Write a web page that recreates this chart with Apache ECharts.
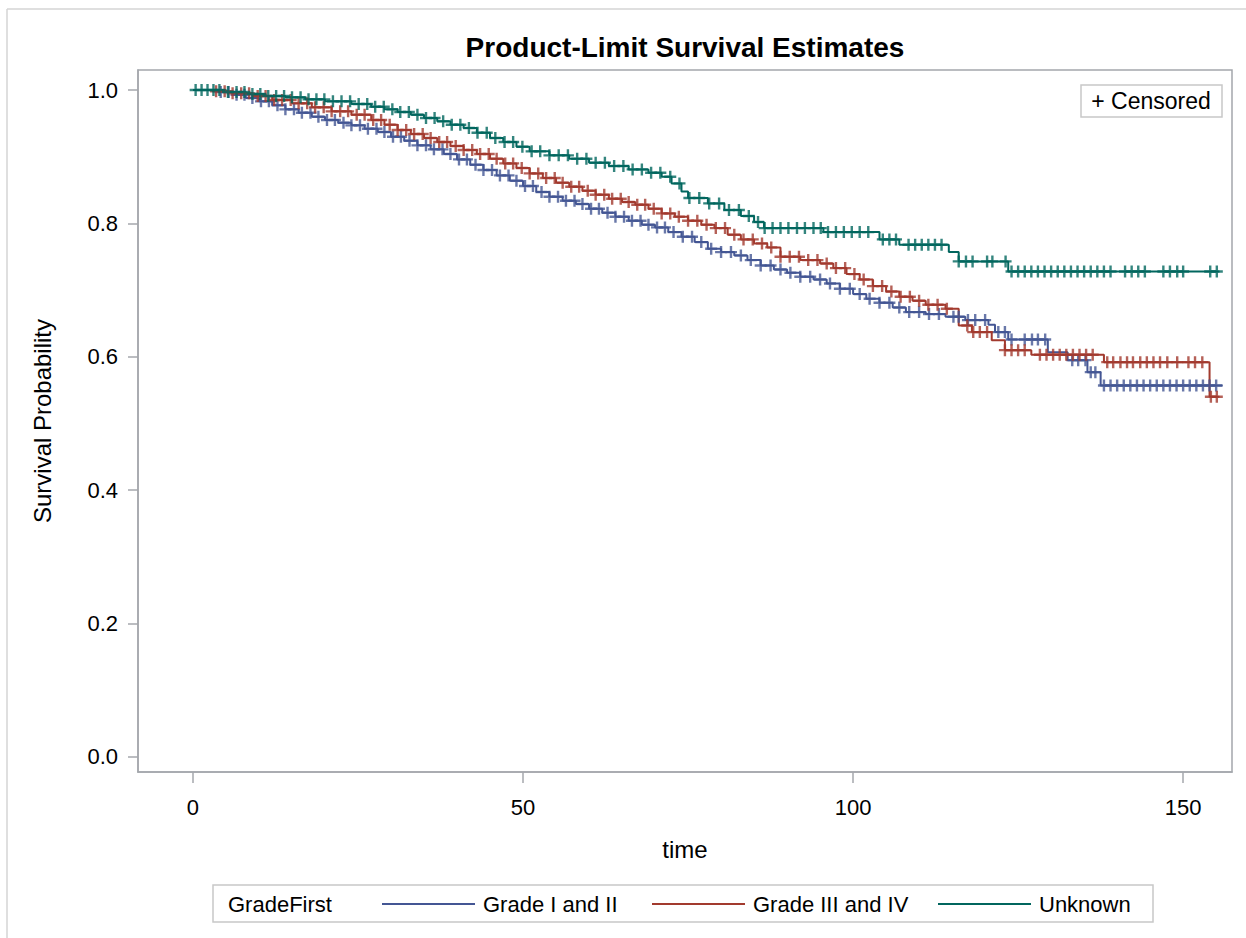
<!DOCTYPE html>
<html>
<head>
<meta charset="utf-8">
<script src="https://cdn.jsdelivr.net/npm/echarts@6/dist/echarts.min.js"></script>
<style>
html,body{margin:0;padding:0;background:#fff;}
#chart{width:1246px;height:938px;}
</style>
</head>
<body>
<div id="chart"></div>
<script>
// ---- tick labels ----
const xTicks = [0, 50, 100, 150];
const yTicks = [0.0, 0.2, 0.4, 0.6, 0.8, 1.0];

// ---- series names ----
const seriesNames = ['Grade I and II', 'Grade III and IV', 'Unknown'];

// ---- Kaplan-Meier step points [time, survival] ----
const stepsGrade12 = [
  [0,1.0],[4,0.997],[6,0.993],[8,0.988],[10,0.983],[12,0.977],[14,0.971],[16,0.966],[18,0.960],
  [20,0.955],[22,0.951],[24,0.947],[26,0.942],[28,0.937],[30,0.930],[32,0.924],[34,0.917],
  [36,0.911],[38,0.904],[40,0.896],[42,0.888],[44,0.880],[46,0.872],[48,0.864],[50,0.856],
  [52,0.847],[54,0.840],[56,0.834],[58,0.829],[60,0.822],[62,0.816],[64,0.810],[66,0.804],
  [68,0.798],[70,0.794],[72,0.787],[74,0.780],[76,0.772],[78,0.762],[80,0.757],[82,0.752],
  [84,0.745],[86,0.737],[88,0.731],[90,0.726],[92,0.720],[94,0.716],[96,0.710],[98,0.702],
  [100,0.694],[102,0.687],[104,0.681],[106,0.674],[108,0.667],[111,0.664],[114,0.660],
  [117,0.655],[120.5,0.648],[121.5,0.637],[123.5,0.626],[129.5,0.607],[132.5,0.595],
  [135.5,0.577],[137.5,0.557],[156,0.557]
];
const stepsGrade34 = [
  [0,1.0],[3,0.998],[6,0.995],[9,0.991],[12,0.985],[15,0.980],[18,0.974],[21,0.968],[24,0.963],
  [27,0.955],[29,0.948],[31,0.940],[33,0.934],[35,0.928],[37,0.922],[39,0.916],[41,0.910],
  [43,0.904],[45,0.897],[47,0.890],[49,0.883],[51,0.875],[53,0.868],[55,0.861],[57,0.855],
  [59,0.849],[61,0.843],[63,0.837],[65,0.832],[67,0.828],[69,0.822],[71,0.815],[73,0.810],
  [75,0.804],[77,0.798],[79,0.793],[81,0.783],[83,0.776],[85,0.770],[87,0.764],[89,0.750],
  [92,0.745],[95,0.740],[97,0.733],[99,0.724],[101,0.716],[103,0.706],[105,0.698],[107,0.690],
  [109,0.684],[111,0.678],[114,0.672],[116,0.647],[118,0.637],[121,0.625],[123,0.610],
  [127,0.603],[138,0.592],[154,0.540],[155.5,0.540]
];
const stepsUnknown = [
  [0,1.0],[5,0.997],[8,0.994],[11,0.991],[14,0.989],[17,0.986],[20,0.983],[24,0.979],[27,0.975],
  [29,0.971],[31,0.967],[33,0.963],[35,0.958],[37,0.953],[39,0.948],[41,0.943],[43,0.936],
  [45,0.928],[47,0.922],[49,0.915],[51,0.908],[54,0.902],[57,0.897],[60,0.891],[63,0.886],
  [66,0.881],[69,0.876],[71,0.870],[72.5,0.860],[74,0.848],[75,0.838],[78,0.830],[80.5,0.820],
  [83,0.811],[85,0.802],[86.5,0.793],[95.5,0.787],[104,0.776],[107,0.768],[114.5,0.757],
  [116,0.743],[123.5,0.728],[155.5,0.728]
];

// ---- censored times ----
const censGrade12 = [
  4.2,5.4,6.6,7.8,9.0,10.3,11.5,12.8,14.0,15.3,16.5,17.8,19.0,20.3,21.5,22.8,24.0,25.3,26.5,27.8,
  29.0,30.3,31.5,32.8,34.0,35.3,36.5,37.8,39.0,40.3,41.5,42.8,44.0,45.3,46.5,47.8,49.0,50.3,51.5,
  52.8,54.0,55.3,56.5,57.8,59.0,60.3,61.5,62.8,64.0,65.3,66.5,67.8,69.0,70.3,71.5,72.8,74.2,75.6,
  77.0,78.5,80.0,81.5,83.0,84.5,86.0,87.5,89.0,90.5,92.0,93.5,95.0,96.5,98.0,99.5,101.0,102.5,
  104.0,105.5,107.0,108.5,110.0,111.5,113.0,115.2,116.0,117.4,118.5,120.0,122.0,123.0,124.0,
  126.0,127.1,128.0,129.1,133.2,134.1,135.2,136.0,136.7,138.0,139.0,140.0,141.0,142.0,143.0,
  144.0,145.0,146.0,147.0,148.0,149.0,150.0,151.0,152.0,153.0,154.0,155.0
];
const censGrade34 = [
  3.5,4.8,6.0,7.3,8.5,9.8,11.0,12.3,13.5,14.8,16.0,17.3,18.5,19.8,21.0,22.3,23.5,24.8,26.0,27.3,
  28.5,29.8,31.0,32.3,33.5,34.8,36.0,37.3,38.5,39.8,41.0,42.3,43.5,44.8,46.0,47.3,48.5,49.8,51.0,
  52.3,53.5,54.8,56.0,57.3,58.5,59.8,61.0,62.3,63.5,64.8,66.0,67.3,68.5,69.8,71.0,72.3,73.6,75.0,
  76.4,77.8,79.2,80.6,82.0,83.4,84.8,86.2,87.6,89.0,90.4,91.8,93.2,94.6,96.0,97.4,98.8,100.2,
  101.6,103.0,104.4,105.8,107.2,108.6,110.0,111.4,112.8,114.2,117.3,118.2,119.2,120.3,123.0,
  124.0,125.0,126.0,128.3,129.3,130.3,131.3,132.3,133.3,134.3,135.3,136.3,138.5,139.4,140.5,
  141.5,142.4,143.5,144.5,145.5,146.5,147.6,149.1,150.8,151.8,152.9,154.2,155.1
];
const censUnknown = [
  0.4,1.3,2.2,3.1,4.0,5.3,6.6,7.8,9.0,10.2,11.4,12.6,13.8,15.0,16.3,17.5,18.7,19.9,21.2,22.5,
  23.8,25.1,26.4,27.6,28.9,30.2,31.4,32.7,34.0,35.3,36.6,37.9,39.2,40.5,41.8,43.1,44.5,45.8,47.2,
  48.5,49.9,51.3,52.6,54.0,55.4,56.8,58.2,59.6,61.0,62.4,63.8,65.2,66.6,68.0,69.4,70.8,72.3,73.7,
  75.2,76.7,78.2,79.7,81.2,82.7,84.2,85.6,86.6,87.8,89.0,90.2,91.5,92.7,94.0,95.1,96.2,97.4,98.6,
  99.8,101.0,102.3,104.5,105.5,106.5,108.4,109.4,110.4,111.4,112.4,113.4,116.0,117.1,118.1,
  120.3,121.1,123.1,124.0,125.0,126.0,127.0,128.0,129.0,130.0,131.0,132.0,133.0,134.0,135.0,
  136.0,137.0,138.0,139.0,141.2,142.2,143.2,144.2,147.0,148.0,149.1,150.0,154.1,155.1
];

const colors = ['#445694', '#A23A2E', '#01665E'];
const FONT = 'Liberation Sans, Arial, sans-serif';
const AXIS_COLOR = '#A4A7AC';

// survival value of a step curve at time t (value of last step at or before t)
function stepValue(steps, t) {
  let v = steps[0][1];
  for (const p of steps) { if (p[0] <= t) v = p[1]; else break; }
  return v;
}
function censPoints(steps, times) { return times.map(t => [t, stepValue(steps, t)]); }

const allSteps = [stepsGrade12, stepsGrade34, stepsUnknown];
const allCens = [censGrade12, censGrade34, censUnknown];

const plusPath = 'path://M4,0h2v4h4v2h-4v4h-2v-4h-4v-2h4z';

const series = [];
for (let i = 0; i < 3; i++) {
  series.push({
    name: seriesNames[i], type: 'line', step: 'end', data: allSteps[i],
    showSymbol: false, symbol: 'none', color: colors[i],
    lineStyle: { width: 2, color: colors[i] }, z: 2 + i
  });
}
for (let i = 0; i < 3; i++) {
  series.push({
    name: seriesNames[i] + ' censored', type: 'scatter', data: censPoints(allSteps[i], allCens[i]),
    symbol: plusPath, symbolSize: [12, 12], itemStyle: { color: colors[i] }, z: 5 + i,
    silent: true
  });
}

const legendBase = {
  top: 888, itemWidth: 93, itemHeight: 2, icon: 'rect', itemGap: 24,
  textStyle: { fontSize: 22, color: '#000', fontFamily: FONT, padding: [0, 0, 0, 3] },
  selectedMode: false
};

const option = {
  animation: false,
  backgroundColor: '#ffffff',
  grid: { left: 138, right: 14, top: 70, bottom: 166, show: true, borderColor: AXIS_COLOR, borderWidth: 1.5 },
  xAxis: {
    type: 'value', min: -8.33, max: 157.4,
    name: 'time', nameLocation: 'middle', nameGap: 65,
    nameTextStyle: { fontSize: 24, color: '#000', fontFamily: FONT },
    axisLine: { show: true, onZero: false, lineStyle: { color: AXIS_COLOR, width: 1.5 } },
    axisTick: { show: true, length: 11, customValues: xTicks, lineStyle: { color: AXIS_COLOR, width: 1.5 } },
    axisLabel: { customValues: xTicks, margin: 24, fontSize: 22, color: '#000', fontFamily: FONT },
    splitLine: { show: false }
  },
  yAxis: {
    type: 'value', min: -0.0225, max: 1.03,
    name: 'Survival Probability', nameLocation: 'middle', nameGap: 84,
    nameTextStyle: { fontSize: 24, color: '#000', fontFamily: FONT },
    axisLine: { show: true, onZero: false, lineStyle: { color: AXIS_COLOR, width: 1.5 } },
    axisTick: { show: true, length: 10, customValues: yTicks, lineStyle: { color: AXIS_COLOR, width: 1.5 } },
    axisLabel: { customValues: yTicks, margin: 20, fontSize: 22, color: '#000', fontFamily: FONT,
      formatter: v => Number(v).toFixed(1) },
    splitLine: { show: false }
  },
  legend: [
    Object.assign({}, legendBase, { left: 377, data: [seriesNames[0]] }),
    Object.assign({}, legendBase, { left: 647, data: [seriesNames[1]] }),
    Object.assign({}, legendBase, { left: 933, data: [seriesNames[2]] })
  ],
  graphic: [
    { type: 'line', shape: { x1: 7, y1: 9, x2: 7, y2: 938 }, style: { stroke: '#D4D4D4', lineWidth: 1.5 }, silent: true },
    { type: 'line', shape: { x1: 7, y1: 9, x2: 1246, y2: 9 }, style: { stroke: '#D4D4D4', lineWidth: 1.5 }, silent: true },
    { type: 'text', x: 685, y: 47, style: { text: 'Product-Limit Survival Estimates', fill: '#000',
        font: 'bold 28px ' + FONT, textAlign: 'center', textVerticalAlign: 'middle' } },
    { type: 'rect', shape: { x: 1081, y: 85, width: 141, height: 32 },
      style: { fill: '#fff', stroke: '#C8C8C8', lineWidth: 1.5 }, z: 10 },
    { type: 'text', x: 1151, y: 101, z: 11, style: { text: '+ Censored', fill: '#000',
        font: '23px ' + FONT, textAlign: 'center', textVerticalAlign: 'middle' } },
    { type: 'rect', shape: { x: 213, y: 885, width: 940, height: 37 },
      style: { fill: 'none', stroke: '#C8C8C8', lineWidth: 1.5 }, z: -1 },
    { type: 'text', x: 228, y: 904, style: { text: 'GradeFirst', fill: '#000',
        font: '22px ' + FONT, textAlign: 'left', textVerticalAlign: 'middle' } }
  ],
  series: series
};

const chart = echarts.init(document.getElementById('chart'), null, { renderer: 'svg' });
chart.setOption(option);
</script>
</body>
</html>
